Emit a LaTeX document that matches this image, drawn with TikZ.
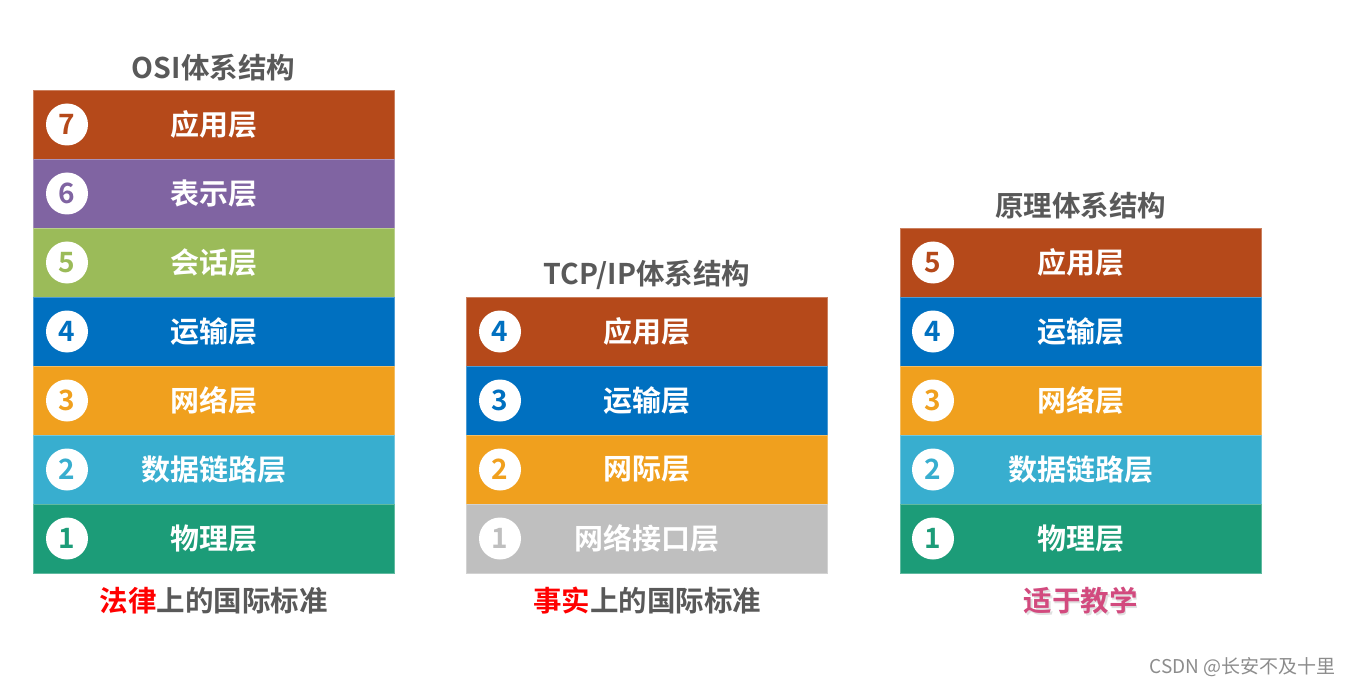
\documentclass[tikz,border=0pt]{standalone}
\usepackage{fontspec}
\setmainfont{Noto Sans CJK SC}
\newfontfamily\cjkb{Noto Sans CJK SC Bold}
\newfontfamily\cjkr{Noto Sans CJK SC}
\definecolor{cBrown}{HTML}{B5491A}
\definecolor{cPurple}{HTML}{8064A2}
\definecolor{cGreen}{HTML}{9BBB59}
\definecolor{cBlue}{HTML}{0070C0}
\definecolor{cOrange}{HTML}{F0A01E}
\definecolor{cLBlue}{HTML}{38AECF}
\definecolor{cTeal}{HTML}{1C9C78}
\definecolor{cGray}{HTML}{BFBFBF}
\definecolor{cText}{HTML}{595959}
\definecolor{cPink}{HTML}{D24A7E}
\tikzset{
  layerbox/.style={minimum width=361pt, minimum height=69pt, inner sep=0pt, draw=white!30!#1, line width=0.6pt, fill=#1, text=white, font=\cjkb\fontsize{29}{29}\selectfont},
  numcirc/.style={circle, fill=white, minimum size=42pt, inner sep=0pt, text=#1, font=\cjkb\fontsize{28}{28}\selectfont},
  titletext/.style={text=cText, font=\cjkb\fontsize{28.5}{28.5}\selectfont, inner sep=0pt},
  bottomtext/.style={text=cText, font=\cjkb\fontsize{28.5}{28.5}\selectfont, inner sep=0pt}
}
\begin{document}
\begin{tikzpicture}[x=1pt,y=-1pt]
\useasboundingbox (0,0) rectangle (1352,687);
% OSI column
\node[titletext] (osiT) at (213.5,68) {OSI体系结构};
\foreach \i/\c/\t/\n in {0/cBrown/应用层/7,1/cPurple/表示层/6,2/cGreen/会话层/5,3/cBlue/运输层/4,4/cOrange/网络层/3,5/cLBlue/数据链路层/2,6/cTeal/物理层/1}{
  \node[layerbox=\c] (osi\n) at (213.5,124.5+69*\i) {\t};
  \node[numcirc=\c] (osiN\n) at (67,124.5+69*\i) {\n};
}
\node[bottomtext] (osiB) at (213.5,601) {\textcolor{red}{法律}上的国际标准};
% TCP/IP column
\node[titletext] (tcpT) at (647,275) {TCP/IP体系结构};
\foreach \i/\c/\k/\t/\n in {0/cBrown/cBlue/应用层/4,1/cBlue/cBlue/运输层/3,2/cOrange/cOrange/网际层/2,3/cGray/cGray/网络接口层/1}{
  \node[layerbox=\c] (tcp\n) at (647,331.5+69*\i) {\t};
  \node[numcirc=\k] (tcpN\n) at (500,331.5+69*\i) {\n};
}
\node[bottomtext] (tcpB) at (647,601) {\textcolor{red}{事实}上的国际标准};
% Principle column
\node[titletext] (prT) at (1080.5,206) {原理体系结构};
\foreach \i/\c/\t/\n in {0/cBrown/应用层/5,1/cBlue/运输层/4,2/cOrange/网络层/3,3/cLBlue/数据链路层/2,4/cTeal/物理层/1}{
  \node[layerbox=\c] (pr\n) at (1080.5,262.5+69*\i) {\t};
  \node[numcirc=\c] (prN\n) at (933,262.5+69*\i) {\n};
}
\node[text=black!12, font=\cjkb\fontsize{28.5}{28.5}\selectfont, inner sep=0pt] (prS) at (1082,603) {适于教学};
\node[text=cPink, font=\cjkb\fontsize{28.5}{28.5}\selectfont, inner sep=0pt] (prB) at (1080.5,601) {适于教学};
% credit
\node[text=black!45, font=\cjkr\fontsize{19}{19}\selectfont, inner sep=0pt, anchor=east] (credit) at (1336,667) {CSDN @长安不及十里};
\end{tikzpicture}
\end{document}
